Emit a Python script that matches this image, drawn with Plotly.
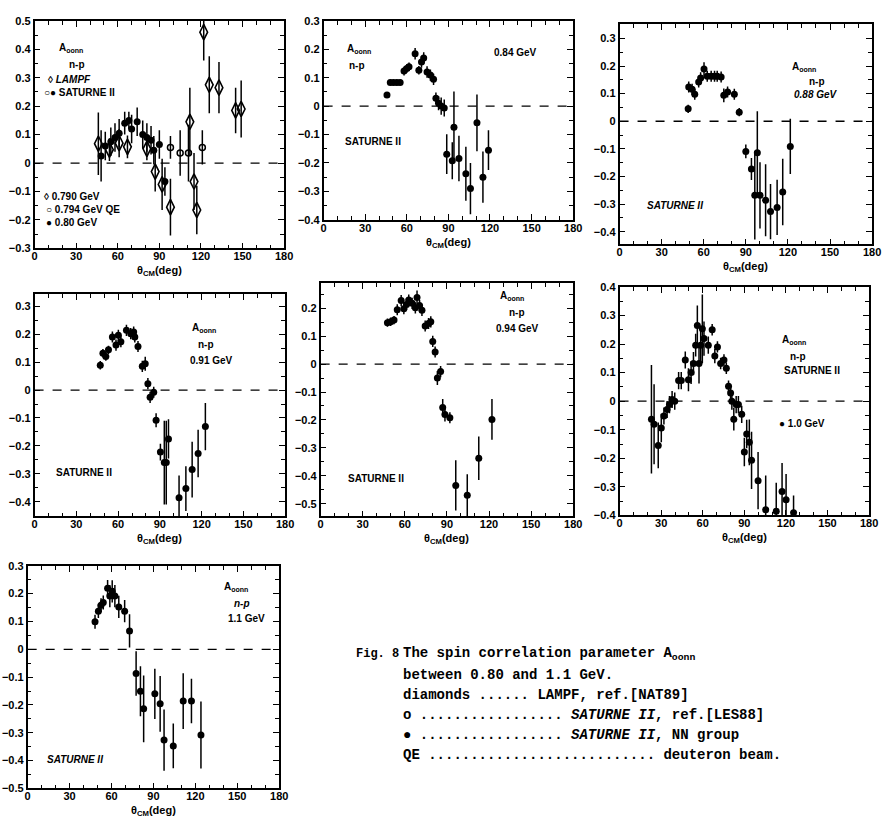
import plotly.graph_objects as go

W, H = 888, 827

# ---------------- data ----------------
# Panel 1 : 0.79-0.80 GeV
p1_lampf_theta = [46, 54, 61, 67, 81, 87, 92, 98, 112, 115, 117, 122, 126, 133, 145, 149]
p1_lampf_val = [0.068, 0.047, 0.07, 0.057, 0.05, -0.03, -0.075, -0.155, 0.145, -0.065, -0.165, 0.46, 0.275, 0.265, 0.185, 0.19]
p1_lampf_err = [0.11, 0.04, 0.05, 0.04, 0.04, 0.07, 0.09, 0.1, 0.12, 0.1, 0.085, 0.1, 0.1, 0.09, 0.08, 0.1]

p1_qe_theta = [98, 105, 111, 121]
p1_qe_val = [0.055, 0.035, 0.035, 0.055]
p1_qe_err = [0.04, 0.08, 0.1, 0.06]

p1_nn_theta = [48, 51, 55, 58, 61, 65, 68, 70, 74, 78, 81, 84, 86, 90, 94]
p1_nn_val = [0.025, 0.06, 0.075, 0.09, 0.105, 0.14, 0.15, 0.12, 0.145, 0.1, 0.09, 0.08, 0.045, 0.065, -0.065]
p1_nn_err = [0.09, 0.05, 0.05, 0.05, 0.05, 0.04, 0.03, 0.05, 0.05, 0.05, 0.05, 0.05, 0.05, 0.05, 0.05]

# Panel 2 : 0.84 GeV
p2_theta = [45.7, 48.1, 50.4, 52.8, 55.2, 58, 60, 61.6, 66, 68.7, 70.6, 72.2, 74.6, 77, 79.3, 81, 82.9, 84.8, 87,
            88.8, 92.8, 94, 97.6, 102.6, 105.9, 110.6, 114.9, 118.9]
p2_val = [0.039, 0.083, 0.083, 0.083, 0.083, 0.123, 0.132, 0.138, 0.184, 0.126, 0.155, 0.169, 0.12, 0.109, 0.094, 0.028,
          0.01, 0.0, -0.007, -0.169, -0.192, -0.074, -0.184, -0.238, -0.29, -0.059, -0.25, -0.155]
p2_err = [0.01, 0.01, 0.01, 0.01, 0.01, 0.015, 0.015, 0.015, 0.02, 0.015, 0.02, 0.02, 0.02, 0.02, 0.02, 0.02,
          0.025, 0.03, 0.03, 0.07, 0.065, 0.125, 0.08, 0.095, 0.09, 0.1, 0.09, 0.07]

# Panel 3 : 0.88 GeV
p3_theta = [48.9, 49.3, 51.7, 53.6, 56.4, 57.8, 60.2, 62.5, 65.3, 67.7, 69.6, 72.4, 74.3, 77, 81.8, 85.3, 90, 94,
            96.4, 98.2, 100.1, 104.1, 107.6, 112.3, 116.3, 121.7]
p3_val = [0.045, 0.124, 0.116, 0.098, 0.142, 0.157, 0.189, 0.163, 0.163, 0.163, 0.163, 0.16, 0.094, 0.106, 0.098,
          0.033, -0.109, -0.173, -0.268, -0.114, -0.268, -0.286, -0.327, -0.312, -0.256, -0.091]
p3_err = [0.015, 0.02, 0.02, 0.02, 0.02, 0.02, 0.025, 0.02, 0.02, 0.02, 0.02, 0.02, 0.025, 0.02, 0.02,
          0.015, 0.025, 0.04, 0.16, 0.15, 0.12, 0.13, 0.1, 0.1, 0.12, 0.1]

# Panel 4 : 0.91 GeV
p4_theta = [47.2, 49.1, 51.2, 53.1, 55.9, 58.5, 60.2, 62, 66, 69.1, 71.2, 72, 74.3, 77.4, 79.5, 81.4, 83, 85.6,
            87.3, 90.4, 93.2, 94.6, 96.2, 103.8, 108.7, 113.2, 117.5, 122.7]
p4_val = [0.089, 0.132, 0.12, 0.144, 0.19, 0.161, 0.196, 0.173, 0.214, 0.202, 0.208, 0.19, 0.156, 0.085, 0.094,
          0.023, -0.026, -0.008, -0.108, -0.222, -0.26, -0.26, -0.175, -0.386, -0.353, -0.285, -0.227, -0.131]
p4_err = [0.015, 0.015, 0.015, 0.015, 0.02, 0.02, 0.02, 0.02, 0.02, 0.02, 0.02, 0.02, 0.02, 0.02, 0.025,
          0.02, 0.02, 0.02, 0.025, 0.03, 0.15, 0.15, 0.07, 0.08, 0.08, 0.1, 0.085, 0.085]

# Panel 5 : 0.94 GeV
p5_theta = [47.6, 49.9, 52.3, 54.6, 57.4, 59.3, 61.2, 62.8, 65.2, 67.5, 68.7, 70.5, 72.2, 74.5, 76.9, 78.5, 79.9,
            81.6, 83.2, 85.5, 87, 88.6, 92.1, 96.3, 104.5, 112.7, 122.1]
p5_val = [0.148, 0.151, 0.157, 0.194, 0.227, 0.198, 0.213, 0.229, 0.217, 0.201, 0.238, 0.209, 0.192, 0.136, 0.145,
          0.151, 0.081, 0.043, -0.05, -0.027, -0.155, -0.18, -0.192, -0.434, -0.469, -0.337, -0.198]
p5_err = [0.015, 0.015, 0.015, 0.02, 0.02, 0.02, 0.02, 0.02, 0.02, 0.02, 0.025, 0.02, 0.02, 0.02, 0.02,
          0.02, 0.02, 0.02, 0.025, 0.02, 0.03, 0.025, 0.02, 0.09, 0.075, 0.078, 0.073]

# Panel 6 : 1.0 GeV
p6_theta = [23, 24.9, 27.9, 30.1, 32, 34.3, 36, 37.9, 39.8, 42.6, 44.5, 47.4, 49.7, 51.6, 53.3, 54.9, 56.1, 57.3,
            58.5, 59.7, 60.9, 64, 66.8, 68.7, 70.6, 72.9, 75.3, 77, 78.6, 80.1, 81, 82.4, 84.1, 85.7, 88.1, 90,
            91.7, 93.6, 95.2, 99.9, 105.4, 113, 117.2, 120.1, 125.5]
p6_val = [-0.063, -0.081, -0.155, -0.094, -0.052, -0.029, -0.012, 0.006, 0.0, 0.072, 0.072, 0.144, 0.075, 0.1,
          0.132, 0.196, 0.265, 0.132, 0.196, 0.253, 0.219, 0.196, 0.25, 0.158, 0.19, 0.132, 0.144, 0.115, 0.052,
          0.029, 0.0, -0.063, -0.012, -0.012, -0.046, -0.178, -0.115, -0.144, -0.207, -0.278, -0.38, -0.385,
          -0.316, -0.345, -0.39]
p6_err = [0.19, 0.14, 0.08, 0.05, 0.03, 0.03, 0.03, 0.03, 0.03, 0.03, 0.03, 0.03, 0.04, 0.04, 0.04, 0.04, 0.07,
          0.07, 0.06, 0.12, 0.06, 0.03, 0.02, 0.025, 0.02, 0.02, 0.02, 0.02, 0.02, 0.02, 0.03, 0.04, 0.03, 0.03,
          0.03, 0.05, 0.05, 0.08, 0.1, 0.1, 0.12, 0.1, 0.1, 0.09, 0.06]

# Panel 7 : 1.1 GeV
p7_theta = [48.2, 50.6, 52.5, 54.1, 57.2, 58.8, 60.5, 62.4, 65.2, 69.4, 72.9, 77.6, 80.7, 83, 91, 94.8, 97.6,
            104.2, 111.3, 117.2, 124]
p7_val = [0.099, 0.137, 0.158, 0.168, 0.219, 0.191, 0.208, 0.191, 0.152, 0.137, 0.066, -0.087, -0.151, -0.214,
          -0.16, -0.196, -0.326, -0.347, -0.186, -0.186, -0.308]
p7_err = [0.025, 0.025, 0.025, 0.025, 0.03, 0.04, 0.04, 0.04, 0.04, 0.04, 0.06, 0.08, 0.09, 0.12, 0.09, 0.1,
          0.11, 0.08, 0.1, 0.08, 0.12]

x_ticks = [0, 30, 60, 90, 120, 150, 180]

# ---------------- layout helpers ----------------
# plot frames in pixels: (left, right, top, bottom), y range
frames = [
    ((32, 285, 15, 246), (-0.3, 0.5)),
    ((325, 578, 15, 217), (-0.4, 0.3)),
    ((625, 881, 18, 242), (-0.446, 0.353)),
    ((32, 286, 292, 518), (-0.453, 0.345)),
    ((322, 578, 281, 518), (-0.545, 0.29)),
    ((625, 878, 285, 517), (-0.4, 0.4)),
    ((25, 280, 568, 794), (-0.5, 0.3)),
]

def px(x):
    return x / W

def py(y):
    return 1 - y / H

fig = go.Figure()

def add_series(i, th, v, e, symbol="circle", size=7, lw=0):
    suffix = "" if i == 1 else str(i)
    fig.add_trace(go.Scatter(
        x=th, y=v, mode="markers",
        xaxis="x" + suffix, yaxis="y" + suffix,
        marker=dict(symbol=symbol, size=size, color="black",
                    line=dict(color="black", width=lw)),
        error_y=dict(type="data", array=e, color="black", thickness=1.5, width=0),
        showlegend=False, cliponaxis=True,
    ))

add_series(1, p1_nn_theta, p1_nn_val, p1_nn_err)
add_series(1, p1_lampf_theta, p1_lampf_val, p1_lampf_err, symbol="diamond-tall-open", size=11, lw=1.6)
add_series(1, p1_qe_theta, p1_qe_val, p1_qe_err, symbol="circle-open", size=6, lw=1.5)
add_series(2, p2_theta, p2_val, p2_err)
add_series(3, p3_theta, p3_val, p3_err)
add_series(4, p4_theta, p4_val, p4_err)
add_series(5, p5_theta, p5_val, p5_err)
add_series(6, p6_theta, p6_val, p6_err)
add_series(7, p7_theta, p7_val, p7_err)

tickfont = dict(family="Liberation Sans", size=11, color="black", weight="bold")
layout = dict(width=W, height=H, margin=dict(l=0, r=0, t=0, b=0),
              paper_bgcolor="white", plot_bgcolor="white", showlegend=False)

shapes = []
annotations = []
for k, ((l, r, t, b), yr) in enumerate(frames, start=1):
    suffix = "" if k == 1 else str(k)
    layout["xaxis" + suffix] = dict(
        domain=[px(l), px(r)], range=[0, 180], anchor="y" + suffix,
        tickvals=x_ticks, ticks="inside", ticklen=6, tickwidth=1.3, tickcolor="black",
        minor=dict(dtick=10, tick0=0, ticks="inside", ticklen=4, tickcolor="black", tickwidth=1.2),
        showline=True, linecolor="black", linewidth=1.6, mirror="allticks",
        showgrid=False, zeroline=False, tickfont=tickfont, fixedrange=True,
        ticklabelstandoff=-3,
    )
    layout["yaxis" + suffix] = dict(
        domain=[py(b), py(t)], range=list(yr), anchor="x" + suffix,
        tick0=0, dtick=0.1, ticks="inside", ticklen=6, tickwidth=1.3, tickcolor="black",
        minor=dict(dtick=0.05, tick0=0, ticks="inside", ticklen=4, tickcolor="black", tickwidth=1.2),
        showline=True, linecolor="black", linewidth=1.6, mirror="allticks",
        showgrid=False, zeroline=False, tickfont=tickfont, fixedrange=True,
    )
    # dashed zero line
    shapes.append(dict(type="line", xref="x" + suffix + " domain", yref="y" + suffix,
                       x0=0, x1=1, y0=0, y1=0, line=dict(color="black", width=1.3, dash="dash")))
    # x-axis title
    annotations.append(dict(text="θ<sub>CM</sub>(deg)", xref="paper", yref="paper",
                            x=px((l + r) / 2), y=py(b + 23), xanchor="center", yanchor="middle",
                            showarrow=False,
                            font=dict(family="Liberation Sans", size=11, color="black", weight="bold")))

layout["shapes"] = shapes

lab = dict(family="Liberation Sans", size=10, color="black", weight="bold")

def note(text, x, y, anchor="left", font=lab):
    annotations.append(dict(text=text, xref="paper", yref="paper", x=px(x), y=py(y),
                            xanchor=anchor, yanchor="middle", showarrow=False, font=font))

A = "A<sub>oonn</sub>"
# panel 1
note(A, 55, 43)
note("n-p", 65, 59)
note("◊ <i>LAMPF</i>", 44, 75)
note("○● SATURNE II", 40, 88)
note("◊ 0.790 GeV", 40, 193)
note("○ 0.794 GeV QE", 42, 206)
note("● 0.80 GeV", 42, 220)
# panel 2
note(A, 347, 44)
note("n-p", 349, 60)
note("0.84 GeV", 496, 47)
note("SATURNE II", 345, 137)
# panel 3
note(A, 798, 62)
note("n-p", 815, 77)
note("<i>0.88 GeV</i>", 800, 90)
note("<i>SATURNE II</i>", 651, 202)
# panel 4
note(A, 190, 327)
note("n-p", 196, 343)
note("0.91 GeV", 188, 360)
note("SATURNE II", 52, 473)
# panel 5
note(A, 502, 294)
note("n-p", 511, 311)
note("0.94 GeV", 498, 327)
note("SATURNE II", 348, 479)
# panel 6
note(A, 788, 339)
note("n-p", 796, 356)
note("SATURNE II", 790, 370)
note("● 1.0 GeV", 785, 424)
# panel 7
note(A, 222, 590)
note("<i>n-p</i>", 232, 606)
note("1.1 GeV", 226, 622)
note("<i>SATURNE II</i>", 43, 765)

# caption
cap = dict(family="Liberation Mono", size=14, color="black", weight="bold")
note("Fig. 8", 356, 658, font=dict(family="Liberation Mono", size=12, color="black", weight="bold"))
caption_lines = [
    "The spin correlation parameter A<sub>oonn</sub>",
    "between 0.80 and 1.1 GeV.",
    "diamonds ...... LAMPF, ref.[NAT89]",
    "o ................. <i>SATURNE II</i>, ref.[LES88]",
    "● ................. <i>SATURNE II</i>, NN group",
    "QE ........................... deuteron beam.",
]
for j, line in enumerate(caption_lines):
    note(line, 403, 658 + 20.4 * j, font=cap)

layout["annotations"] = annotations
fig.update_layout(**layout)
fig.write_html("out.html")
